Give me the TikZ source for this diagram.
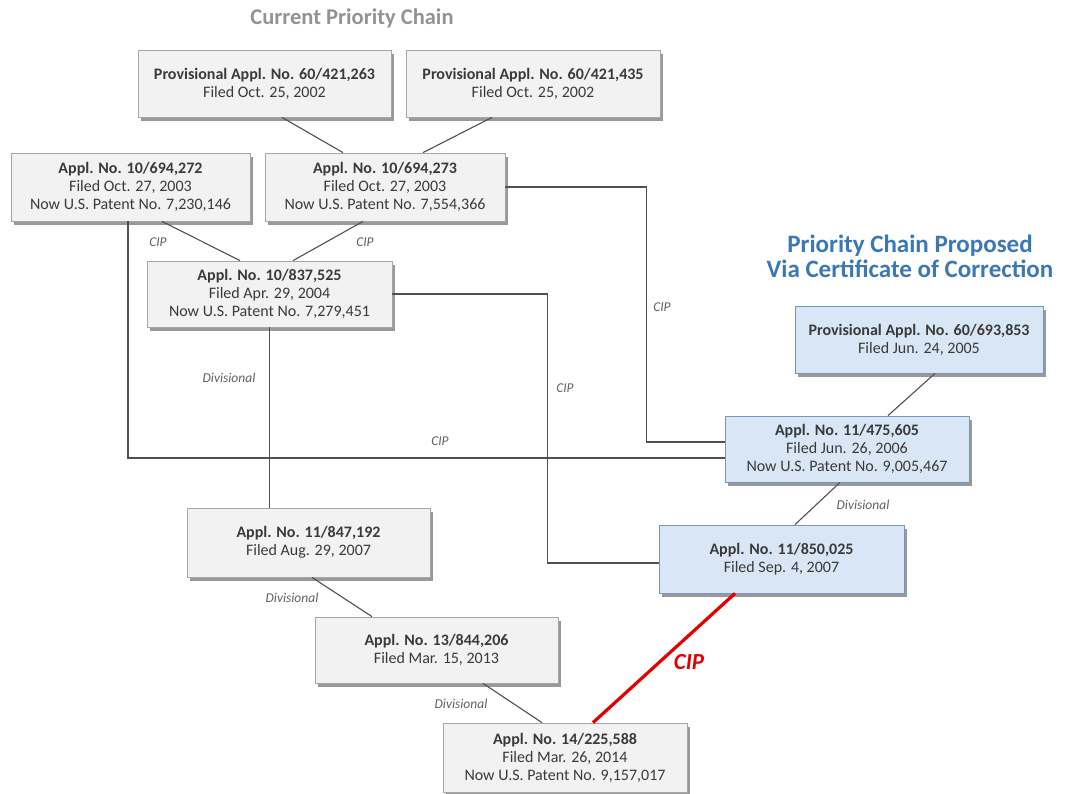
\documentclass[tikz,border=0pt]{standalone}
\usepackage{fontspec}
\setmainfont{Carlito}
\usetikzlibrary{shadows, positioning}
\definecolor{boxfill}{HTML}{F2F2F2}
\definecolor{boxline}{HTML}{A6A6A6}
\definecolor{bluefill}{HTML}{D8E6F5}
\definecolor{blueline}{HTML}{7896BC}
\definecolor{titleblue}{HTML}{3C78B4}
\definecolor{txtgray}{HTML}{3A3A3A}
\definecolor{linkgray}{HTML}{505050}
\tikzset{
	appbox/.style={draw=boxline, fill=boxfill, line width=0.8pt, align=center,
		minimum width=245, minimum height=67, text=txtgray,
		font=\fontsize{16}{18}\selectfont,
		drop shadow={shadow xshift=3pt, shadow yshift=-4pt, fill=black, opacity=.4}}
}
\tikzset{
	bluebox/.style={appbox, draw=blueline, fill=bluefill}
}
\tikzset{
	link/.style={linkgray, line width=1.1pt},
	linklabel/.style={font=\fontsize{13.5}{15}\selectfont\itshape, text=txtgray!80}
}

\begin{document}
\begin{tikzpicture}[x=1pt, y=-1pt]
      \useasboundingbox[fill=white] (0,0) rectangle (1068,793);

      % titles
      \node[font=\fontsize{22.5}{26}\selectfont\bfseries, text=gray!85] (curtitle) at (352,18) {Current Priority Chain};
      \node[font=\fontsize{25}{25}\selectfont\bfseries, text=titleblue, align=center] (proptitle) at (910,256) {Priority Chain Proposed\\Via Certificate of Correction};

      % current chain
      \node[appbox, minimum width=253] (p263) at (264.5,83.5) {\textbf{Provisional Appl. No. 60/421,263}\\Filed Oct. 25, 2002};
      \node[appbox, minimum width=254] (p435) at (533,83.5) {\textbf{Provisional Appl. No. 60/421,435}\\Filed Oct. 25, 2002};
      \node[appbox, minimum width=239, minimum height=68] (a272) at (130.5,187) {\textbf{Appl. No. 10/694,272}\\Filed Oct. 27, 2003\\Now U.S. Patent No. 7,230,146};
      \node[appbox, minimum width=240, minimum height=68] (a273) at (385,187) {\textbf{Appl. No. 10/694,273}\\Filed Oct. 27, 2003\\Now U.S. Patent No. 7,554,366};
      \node[appbox, minimum height=66] (a525) at (269.5,294) {\textbf{Appl. No. 10/837,525}\\Filed Apr. 29, 2004\\Now U.S. Patent No. 7,279,451};
      \node[appbox, minimum width=243, minimum height=69] (a192) at (308.5,542.5) {\textbf{Appl. No. 11/847,192}\\Filed Aug. 29, 2007};
      \node[appbox, minimum width=243, minimum height=66] (a206) at (436.5,650) {\textbf{Appl. No. 13/844,206}\\Filed Mar. 15, 2013};
      \node[appbox, minimum width=244, minimum height=69] (a588) at (565,757.5) {\textbf{Appl. No. 14/225,588}\\Filed Mar. 26, 2014\\Now U.S. Patent No. 9,157,017};

      % proposed chain
      \node[bluebox, minimum width=248] (p853) at (919,339.5) {\textbf{Provisional Appl. No. 60/693,853}\\Filed Jun. 24, 2005};
      \node[bluebox, minimum width=244, minimum height=66] (a605) at (847,449) {\textbf{Appl. No. 11/475,605}\\Filed Jun. 26, 2006\\Now U.S. Patent No. 9,005,467};
      \node[bluebox, minimum height=68] (a025) at (781.5,559) {\textbf{Appl. No. 11/850,025}\\Filed Sep. 4, 2007};

      % connectors
      \draw[link] ([xshift=17.5]p263.south) -- ([xshift=-42]a273.north);
      \draw[link] ([xshift=-41]p435.south) -- ([xshift=38]a273.north);
      \draw[link] ([xshift=31.5]a272.south) -- ([xshift=-29.5]a525.north);
      \draw[link] ([xshift=-22]a273.south) -- ([xshift=23.5]a525.north);
      \draw[link] ([xshift=-2.5]a272.south) |- ([yshift=-9]a605.west);
      \draw[link] (a273.east) -- ++(141,0) |- ([yshift=7]a605.west);
      \draw[link] (a525.east) -- ++(155,0) |- ([yshift=-4]a025.west);
      \draw[link] (a525.south) -- (a525.south |- a192.north);
      \draw[link] ([xshift=16]p853.south) -- ([xshift=41]a605.north);
      \draw[link] ([xshift=-7]a605.south) -- ([xshift=13.5]a025.north);
      \draw[link] ([xshift=3.5]a192.south) -- ([xshift=-64.5]a206.north);
      \draw[link] ([xshift=46.5]a206.south) -- ([xshift=-23]a588.north);
      \draw[red!90!black, line width=3.2pt] ([xshift=-46.5]a025.south) -- ([xshift=28]a588.north);

      % connector labels
      \node[linklabel] (l1) at (158,242) {CIP};
      \node[linklabel] (l2) at (365,242) {CIP};
      \node[linklabel] (l3) at (662,307) {CIP};
      \node[linklabel] (l4) at (565,388) {CIP};
      \node[linklabel] (l5) at (440,441) {CIP};
      \node[linklabel] (l6) at (229,378) {Divisional};
      \node[linklabel] (l7) at (863,505) {Divisional};
      \node[linklabel] (l8) at (292,598) {Divisional};
      \node[linklabel] (l9) at (461,704) {Divisional};
      \node[font=\fontsize{23}{26}\selectfont\bfseries\itshape, text=red!90!black] (l10) at (689,662) {CIP};
    \end{tikzpicture}
\end{document}
